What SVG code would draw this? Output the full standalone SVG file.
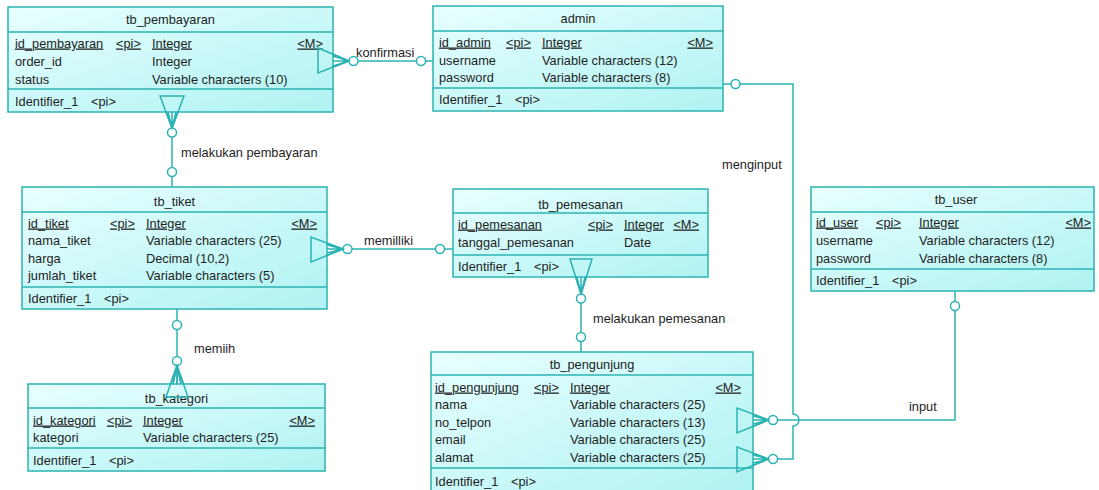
<svg xmlns="http://www.w3.org/2000/svg" width="1099" height="490" viewBox="0 0 1099 490">
<defs>
<linearGradient id="g" x1="0" y1="0" x2="1" y2="1">
<stop offset="0" stop-color="#e8ffff"/>
<stop offset="1" stop-color="#b0f2f2"/>
</linearGradient>
</defs>
<style>
.box{fill:url(#g);stroke:#2bb3b3;stroke-width:1.5}
.sep{stroke:#2bb3b3;stroke-width:1.5}
.ln{fill:none;stroke:#2bb3b3;stroke-width:1.5}
.cir{fill:#fff;stroke:#2bb3b3;stroke-width:1.5}
text{font-family:"Liberation Sans",Arial,sans-serif;font-size:12.8px;fill:#1e1e1e}
.t{text-anchor:middle}
.u{text-decoration:underline}
.e{text-anchor:end}
</style>
<rect width="1099" height="490" fill="#fff"/>

<g id="connectors">
<!-- konfirmasi -->
<path class="ln" d="M318,48 L318,73 L349,61 Z M333,56 L349,61 M333,61 L349,61 M333,66 L349,61 M358,61 L416.5,61 M425.5,61 L433,61"/>
<circle class="cir" cx="353.5" cy="61" r="4.5"/>
<circle class="cir" cx="421" cy="61" r="4.5"/>
<!-- melakukan pembayaran -->
<path class="ln" d="M160,96 L184,96 L172,128 Z M168,112 L172,128 M172,112 L172,128 M176,112 L172,128 M172,137 L172,167.5 M172,176.5 L172,187"/>
<circle class="cir" cx="172" cy="132.5" r="4.5"/>
<circle class="cir" cx="172" cy="172" r="4.5"/>
<!-- memilliki -->
<path class="ln" d="M311,237 L311,262 L343,249 Z M327,245 L343,249 M327,249 L343,249 M327,253 L343,249 M352,249 L435.5,249 M444.5,249 L453,249"/>
<circle class="cir" cx="347.5" cy="249" r="4.5"/>
<circle class="cir" cx="440" cy="249" r="4.5"/>
<!-- melakukan pemesanan -->
<path class="ln" d="M570,259 L592,259 L581,294 Z M577,277 L581,294 M581,277 L581,294 M585,277 L581,294 M581,303 L581,332.5 M581,341.5 L581,352"/>
<circle class="cir" cx="581" cy="298.5" r="4.5"/>
<circle class="cir" cx="581" cy="337" r="4.5"/>
<!-- memiih -->
<path class="ln" d="M177,309 L177,320.5 M177,329.5 L177,356.5 M166,397 L188,397 L177,365.5 Z M173,384 L177,365.5 M177,384 L177,365.5 M181,384 L177,365.5"/>
<circle class="cir" cx="177" cy="325" r="4.5"/>
<circle class="cir" cx="177" cy="361" r="4.5"/>
<!-- menginput -->
<path class="ln" d="M723,84 L731,84 M740,84 L793,84 L793,414 A6,6 0 0 1 793,426 L793,459 L777.5,459 M737,447 L737,472 L768.5,459 Z M753,455 L768.5,459 M753,459 L768.5,459 M753,463 L768.5,459"/>
<circle class="cir" cx="735.5" cy="84" r="4.5"/>
<circle class="cir" cx="773" cy="459" r="4.5"/>
<!-- input -->
<path class="ln" d="M955,291 L955,301.5 M955,310.5 L955,420 L777.5,420 M737,408 L737,433 L768.5,420 Z M753,416 L768.5,420 M753,420 L768.5,420 M753,424 L768.5,420"/>
<circle class="cir" cx="955" cy="306" r="4.5"/>
<circle class="cir" cx="773" cy="420" r="4.5"/>
</g>

<g id="labels">
<text x="356" y="56.5">konfirmasi</text>
<text x="181" y="156.5">melakukan pembayaran</text>
<text x="364" y="244.5">memilliki</text>
<text x="593" y="322.5">melakukan pemesanan</text>
<text x="194" y="352.5">memiih</text>
<text x="722" y="168.5">menginput</text>
<text x="909" y="410.5">input</text>
</g>

<g id="tb_pembayaran">
<rect class="box" x="8" y="7" width="325" height="105"/>
<line class="sep" x1="8" y1="32" x2="333" y2="32"/>
<line class="sep" x1="8" y1="89" x2="333" y2="89"/>
<text class="t" x="170.5" y="23.5">tb_pembayaran</text>
<text class="u" x="15" y="47.5">id_pembayaran</text><text class="u" x="116" y="47.5">&lt;pi&gt;</text><text class="u" x="152" y="47.5">Integer</text><text class="u e" x="323" y="47.5">&lt;M&gt;</text>
<text x="15" y="65.5">order_id</text><text x="152" y="65.5">Integer</text>
<text x="15" y="83.5">status</text><text x="152" y="83.5">Variable characters (10)</text>
<text x="15" y="105.5">Identifier_1</text><text x="91" y="105.5">&lt;pi&gt;</text>
</g>

<g id="admin">
<rect class="box" x="433" y="6" width="290" height="105"/>
<line class="sep" x1="433" y1="31" x2="723" y2="31"/>
<line class="sep" x1="433" y1="88" x2="723" y2="88"/>
<text class="t" x="578" y="22.5">admin</text>
<text class="u" x="439" y="46.5">id_admin</text><text class="u" x="506" y="46.5">&lt;pi&gt;</text><text class="u" x="542" y="46.5">Integer</text><text class="u e" x="713" y="46.5">&lt;M&gt;</text>
<text x="439" y="64.5">username</text><text x="542" y="64.5">Variable characters (12)</text>
<text x="439" y="82">password</text><text x="542" y="82">Variable characters (8)</text>
<text x="439" y="103.5">Identifier_1</text><text x="515" y="103.5">&lt;pi&gt;</text>
</g>

<g id="tb_tiket">
<rect class="box" x="22" y="187" width="305" height="122"/>
<line class="sep" x1="22" y1="212" x2="327" y2="212"/>
<line class="sep" x1="22" y1="287" x2="327" y2="287"/>
<text class="t" x="174.5" y="205.5">tb_tiket</text>
<text class="u" x="28" y="227.5">id_tiket</text><text class="u" x="110" y="227.5">&lt;pi&gt;</text><text class="u" x="146" y="227.5">Integer</text><text class="u e" x="317" y="227.5">&lt;M&gt;</text>
<text x="28" y="245">nama_tiket</text><text x="146" y="245">Variable characters (25)</text>
<text x="28" y="262.5">harga</text><text x="146" y="262.5">Decimal (10,2)</text>
<text x="28" y="280">jumlah_tiket</text><text x="146" y="280">Variable characters (5)</text>
<text x="28" y="302.5">Identifier_1</text><text x="104" y="302.5">&lt;pi&gt;</text>
</g>

<g id="tb_pemesanan">
<rect class="box" x="453" y="189" width="255" height="88"/>
<line class="sep" x1="453" y1="213" x2="708" y2="213"/>
<line class="sep" x1="453" y1="255" x2="708" y2="255"/>
<text class="t" x="580.5" y="208.5">tb_pemesanan</text>
<text class="u" x="458" y="228.5">id_pemesanan</text><text class="u" x="588" y="228.5">&lt;pi&gt;</text><text class="u" x="624" y="228.5">Integer</text><text class="u e" x="699" y="228.5">&lt;M&gt;</text>
<text x="458" y="246.5">tanggal_pemesanan</text><text x="624" y="246.5">Date</text>
<text x="458" y="270.5">Identifier_1</text><text x="534" y="270.5">&lt;pi&gt;</text>
</g>

<g id="tb_user">
<rect class="box" x="811" y="187" width="283" height="104"/>
<line class="sep" x1="811" y1="212" x2="1094" y2="212"/>
<line class="sep" x1="811" y1="269" x2="1094" y2="269"/>
<text class="t" x="956" y="203.5">tb_user</text>
<text class="u" x="816" y="226.5">id_user</text><text class="u" x="876" y="226.5">&lt;pi&gt;</text><text class="u" x="919" y="226.5">Integer</text><text class="u e" x="1091" y="226.5">&lt;M&gt;</text>
<text x="816" y="244.5">username</text><text x="919" y="244.5">Variable characters (12)</text>
<text x="816" y="262.5">password</text><text x="919" y="262.5">Variable characters (8)</text>
<text x="816" y="284.5">Identifier_1</text><text x="892" y="284.5">&lt;pi&gt;</text>
</g>

<g id="tb_pengunjung">
<rect class="box" x="431" y="352" width="322" height="142"/>
<line class="sep" x1="431" y1="375" x2="753" y2="375"/>
<line class="sep" x1="431" y1="468" x2="753" y2="468"/>
<text class="t" x="592" y="368.5">tb_pengunjung</text>
<text class="u" x="435" y="391.5">id_pengunjung</text><text class="u" x="534" y="391.5">&lt;pi&gt;</text><text class="u" x="570" y="391.5">Integer</text><text class="u e" x="741" y="391.5">&lt;M&gt;</text>
<text x="435" y="408.5">nama</text><text x="570" y="408.5">Variable characters (25)</text>
<text x="435" y="426.5">no_telpon</text><text x="570" y="426.5">Variable characters (13)</text>
<text x="435" y="443.5">email</text><text x="570" y="443.5">Variable characters (25)</text>
<text x="435" y="461.5">alamat</text><text x="570" y="461.5">Variable characters (25)</text>
<text x="435" y="485.5">Identifier_1</text><text x="511" y="485.5">&lt;pi&gt;</text>
</g>

<g id="tb_kategori">
<rect class="box" x="28" y="384" width="297" height="87"/>
<line class="sep" x1="28" y1="408" x2="325" y2="408"/>
<line class="sep" x1="28" y1="448" x2="325" y2="448"/>
<text class="t" x="176.5" y="402.5">tb_kategori</text>
<text class="u" x="33" y="424.5">id_kategori</text><text class="u" x="107" y="424.5">&lt;pi&gt;</text><text class="u" x="143" y="424.5">Integer</text><text class="u e" x="315" y="424.5">&lt;M&gt;</text>
<text x="33" y="441.5">kategori</text><text x="143" y="441.5">Variable characters (25)</text>
<text x="33" y="464.5">Identifier_1</text><text x="109" y="464.5">&lt;pi&gt;</text>
</g>

<g id="overlays">
<path class="ln" d="M166,397 L188,397 L177,365.5 Z M173,384 L177,365.5 M177,384 L177,365.5 M181,384 L177,365.5"/>
<path class="ln" d="M318,48 L318,73 L349,61 Z"/>
<path class="ln" d="M160,96 L184,96 L172,128 Z"/>
<path class="ln" d="M311,237 L311,262 L343,249 Z"/>
<path class="ln" d="M570,259 L592,259 L581,294 Z"/>
<path class="ln" d="M737,447 L737,472 L768.5,459 Z M737,408 L737,433 L768.5,420 Z"/>
</g>
</svg>
